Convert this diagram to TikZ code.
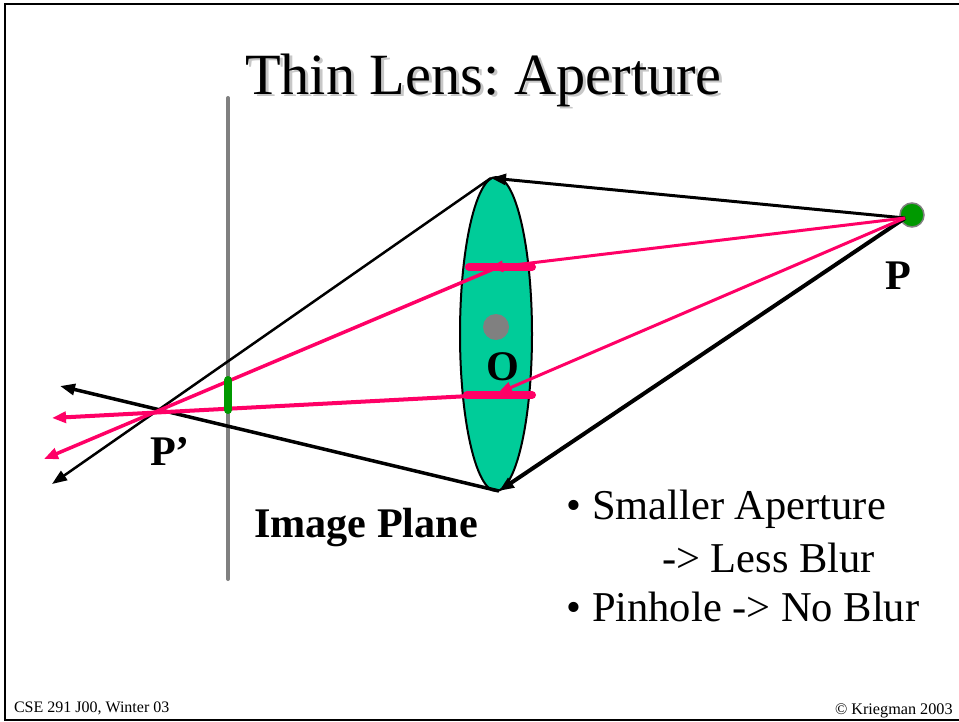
\documentclass[tikz,border=0pt]{standalone}
\usepackage{fontspec}
\setmainfont{Liberation Serif}
\frenchspacing
\usetikzlibrary{arrows.meta,shapes.geometric}
\definecolor{lensgreen}{RGB}{0,204,153}
\definecolor{raypink}{RGB}{255,0,102}
\definecolor{ptgreen}{RGB}{0,153,0}
\definecolor{planegray}{RGB}{128,128,128}
\tikzset{
  x=1pt,y=-1pt,
  txt/.style={anchor=base west,inner sep=0pt,outer sep=0pt},
  titletxt/.style={txt,font=\fontsize{58.4}{60}\selectfont},
  bodytxt/.style={txt,font=\fontsize{42.5}{44}\selectfont},
  boldtxt/.style={txt,font=\fontsize{42.2}{44}\selectfont\bfseries},
  foot/.style={txt,font=\fontsize{16}{18}\selectfont},
  blackray/.style={draw=black,line width=#1,-{Triangle[length=15pt,width=11pt]}},
  pinkray/.style={draw=raypink,line width=#1,-{Triangle[length=14pt,width=11pt]}},
  bar/.style={draw=raypink,line width=8pt,line cap=round},
}
\begin{document}
\begin{tikzpicture}
\useasboundingbox (0,0) rectangle (959,722);
\fill[white] (0,0) rectangle (959,722);
% slide frame
\draw[line width=2pt] (960,4) -- (5,4) -- (5,720) -- (960,720);
% title
\node[titletxt,text=black!22] (titleshadow) at (248,97) {Thin Lens: Aperture};
\node[titletxt] (title) at (245,95) {Thin Lens: Aperture};
% lens
\node[draw=black,line width=2pt,fill=lensgreen,ellipse,minimum width=72pt,minimum height=314pt,inner sep=0pt] (lens) at (496,334) {};
\node[circle,fill=planegray,minimum size=26pt,inner sep=0pt] (centre) at (496,327) {};
% image plane
\coordinate (planetop) at (228,98);
\coordinate (planebot) at (228,579);
\draw[planegray,line width=4pt,line cap=round] (planetop) -- (planebot);
% point P
\node[circle,draw=planegray,line width=1.5pt,fill=ptgreen,minimum size=24pt,inner sep=0pt] (P) at (912,215) {};
\coordinate (Pc) at (905,218);
% ray ends
\coordinate (ltop) at (491,178);
\coordinate (lbot) at (499,491);
\coordinate (endA) at (52,484);
\coordinate (endB) at (60,386);
\coordinate (endC) at (52,418);
\coordinate (endD) at (44,459);
\coordinate (barAl) at (469,267);
\coordinate (barAr) at (532,267);
\coordinate (barBl) at (467,395);
\coordinate (barBr) at (532,395);
\coordinate (hitA) at (489,268);
\coordinate (hitB) at (498,393);
\coordinate (startC) at (470,396);
\coordinate (startD) at (503,265);
\coordinate (gtop) at (228,380);
\coordinate (gbot) at (228,410);
% black rays
\draw[blackray=3pt] (Pc) -- (ltop);
\draw[blackray=4pt] (Pc) -- (lbot);
\draw[blackray=2.5pt] (ltop) -- (endA);
\draw[blackray=3.5pt] (lbot) -- (endB);
% pink rays
\draw[pinkray=3pt] (Pc) -- (hitA);
\draw[pinkray=3pt] (Pc) -- (hitB);
\draw[pinkray=3.5pt] (startD) -- (endD);
\draw[pinkray=4pt] (startC) -- (endC);
\draw[bar] (barAl) -- (barAr);
\draw[bar] (barBl) -- (barBr);
\draw[ptgreen,line width=8pt,line cap=round] (gtop) -- (gbot);
% labels
\node[boldtxt] (labP) at (885,290) {P};
\node[boldtxt] (labO) at (486,380) {O};
\node[boldtxt] (labPp) at (150,465) {P’};
\node[boldtxt] (labIP) at (254,537) {Image Plane};
\node[bodytxt] (b1) at (566,519) {•};
\node[bodytxt] (t1) at (592,519) {Smaller Aperture};
\node[bodytxt] (t2) at (662,572) {-> Less Blur};
\node[bodytxt] (b2) at (566,621) {•};
\node[bodytxt] (t3) at (592,621) {Pinhole -> No Blur};
\node[foot] (f1) at (14,712) {CSE 291 J00, Winter 03};
\node[foot,font=\fontsize{16.2}{18}\selectfont] (f2) at (835,714) {© Kriegman 2003};
\end{tikzpicture}
\end{document}
